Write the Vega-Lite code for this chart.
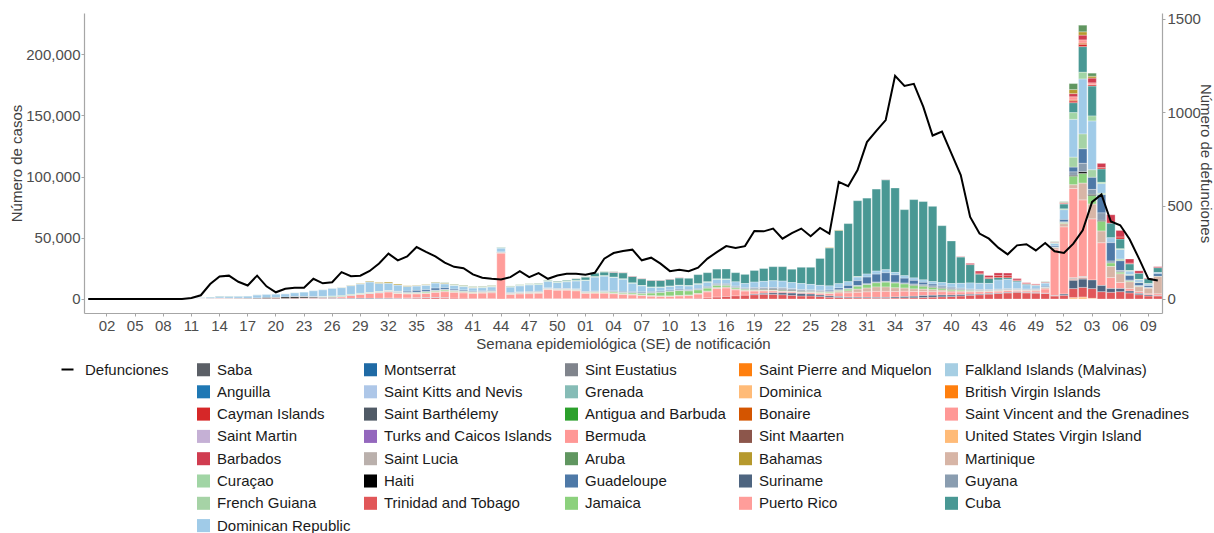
{
 "$schema": "https://vega.github.io/schema/vega-lite/v6.json",
 "width": 1078, "height": 300,
 "autosize": {"type": "none"},
 "padding": {"left": 84, "top": 13, "right": 52, "bottom": 220},
 "background": "white",
 "config": {
  "view": {"stroke": null},
  "font": "Liberation Sans",
  "axis": {"grid": false, "domainColor": "#a6a6a6", "domainWidth": 1.2, "tickColor": "#a6a6a6", "tickSize": 3, "labelFontSize": 15, "labelColor": "#4d4d4d", "titleFontSize": 15, "titleFontWeight": "normal", "titleColor": "#404040", "labelFont": "Liberation Sans", "titleFont": "Liberation Sans"},
  "legend": {"labelFontSize": 15, "labelColor": "#1a1a1a", "labelFont": "Liberation Sans", "padding": 0, "labelLimit": 400, "symbolLimit": 0}
 },
 "datasets": {
  "names": [
   {"k": "CU", "country": "Cuba"}, {"k": "DO", "country": "Dominican Republic"}, {"k": "PR", "country": "Puerto Rico"},
   {"k": "JM", "country": "Jamaica"}, {"k": "GP", "country": "Guadeloupe"}, {"k": "MQ", "country": "Martinique"},
   {"k": "TT", "country": "Trinidad and Tobago"}, {"k": "SR", "country": "Suriname"}, {"k": "HT", "country": "Haiti"},
   {"k": "GY", "country": "Guyana"}, {"k": "GF", "country": "French Guiana"}, {"k": "CW", "country": "Curaçao"},
   {"k": "BB", "country": "Barbados"}, {"k": "BS", "country": "Bahamas"}, {"k": "AW", "country": "Aruba"},
   {"k": "KY", "country": "Cayman Islands"}, {"k": "BM", "country": "Bermuda"}, {"k": "VI", "country": "United States Virgin Island"},
   {"k": "LC", "country": "Saint Lucia"}, {"k": "BQ", "country": "Bonaire"}, {"k": "VC", "country": "Saint Vincent and the Grenadines"},
   {"k": "SX", "country": "Sint Maarten"}
  ],
  "weeks": [
   {"w": "2019-52", "d": 0},
   {"w": "2020-01", "d": 0}, {"w": "2020-02", "d": 0}, {"w": "2020-03", "d": 0}, {"w": "2020-04", "d": 0}, {"w": "2020-05", "d": 0},
   {"w": "2020-06", "d": 0}, {"w": "2020-07", "d": 0}, {"w": "2020-08", "d": 0}, {"w": "2020-09", "d": 0}, {"w": "2020-10", "d": 0},
   {"w": "2020-11", "d": 5, "DO": 150, "CU": 30, "PR": 20},
   {"w": "2020-12", "d": 20, "DO": 700, "CU": 150, "PR": 100, "GP": 50, "MQ": 50, "TT": 30},
   {"w": "2020-13", "d": 80, "DO": 1000, "CU": 300, "PR": 300},
   {"w": "2020-14", "d": 120, "DO": 1200, "CU": 400, "PR": 500, "HT": 50},
   {"w": "2020-15", "d": 125, "DO": 1300, "CU": 350, "PR": 400, "HT": 100},
   {"w": "2020-16", "d": 92, "DO": 1400, "CU": 300, "PR": 400, "HT": 150},
   {"w": "2020-17", "d": 72, "DO": 1700, "CU": 250, "PR": 300, "HT": 200},
   {"w": "2020-18", "d": 125, "DO": 2400, "CU": 200, "PR": 400, "HT": 300, "SR": 50},
   {"w": "2020-19", "d": 68, "DO": 2600, "CU": 150, "PR": 500, "HT": 500},
   {"w": "2020-20", "d": 36, "DO": 2600, "CU": 100, "PR": 600, "HT": 600, "GY": 50},
   {"w": "2020-21", "d": 55, "DO": 2500, "CU": 100, "PR": 500, "HT": 1000, "JM": 50},
   {"w": "2020-22", "d": 60, "DO": 3000, "PR": 600, "HT": 1200, "CU": 100, "GY": 100},
   {"w": "2020-23", "d": 60, "DO": 3600, "PR": 800, "HT": 900, "CU": 100, "GY": 150, "SR": 100},
   {"w": "2020-24", "d": 108, "DO": 4800, "PR": 900, "HT": 600, "CU": 100, "GY": 200, "SR": 150},
   {"w": "2020-25", "d": 84, "DO": 5500, "PR": 900, "HT": 400, "CU": 100, "GY": 200, "SR": 200, "GF": 200},
   {"w": "2020-26", "d": 90, "DO": 6200, "PR": 1000, "HT": 300, "GF": 500, "SR": 300, "GY": 250, "CU": 100},
   {"w": "2020-27", "d": 144, "DO": 6500, "PR": 1400, "HT": 200, "GF": 600, "SR": 300, "GY": 200, "CU": 150, "BS": 100},
   {"w": "2020-28", "d": 122, "DO": 7000, "PR": 2500, "GF": 500, "SR": 400, "GY": 200, "HT": 150, "CU": 200, "BS": 200},
   {"w": "2020-29", "d": 125, "DO": 7500, "PR": 3300, "GF": 400, "SR": 500, "GY": 250, "JM": 100, "CU": 300, "BS": 300, "TT": 50},
   {"w": "2020-30", "d": 150, "DO": 8500, "PR": 4000, "GF": 300, "SR": 500, "GY": 300, "JM": 200, "CU": 300, "BS": 500},
   {"w": "2020-31", "d": 190, "DO": 6500, "PR": 4500, "GF": 300, "SR": 400, "GY": 300, "JM": 300, "GP": 200, "CU": 300, "BS": 600, "TT": 100},
   {"w": "2020-32", "d": 243, "DO": 5800, "PR": 5000, "JM": 400, "GP": 300, "GY": 300, "SR": 400, "CU": 300, "BS": 800, "TT": 300, "GF": 200},
   {"w": "2020-33", "d": 207, "DO": 5000, "PR": 4000, "JM": 500, "GP": 600, "GY": 300, "SR": 300, "CU": 300, "BS": 700, "TT": 300, "GF": 150, "MQ": 100},
   {"w": "2020-34", "d": 228, "DO": 3800, "PR": 3500, "JM": 600, "GP": 1000, "MQ": 200, "GY": 300, "SR": 200, "TT": 500, "CU": 300, "BS": 400},
   {"w": "2020-35", "d": 278, "DO": 3500, "PR": 3300, "JM": 700, "GP": 1500, "MQ": 300, "GY": 300, "SR": 200, "TT": 700, "CU": 300, "BS": 300},
   {"w": "2020-36", "d": 252, "DO": 3700, "PR": 3400, "JM": 800, "GP": 1500, "MQ": 400, "GY": 300, "SR": 200, "TT": 900, "CU": 300, "BS": 300, "CW": 100},
   {"w": "2020-37", "d": 228, "DO": 4000, "PR": 4200, "JM": 900, "GP": 1800, "MQ": 500, "GY": 300, "SR": 200, "TT": 1000, "CU": 400, "BS": 400, "AW": 200},
   {"w": "2020-38", "d": 195, "DO": 3000, "PR": 5000, "JM": 900, "GP": 1500, "MQ": 600, "GY": 250, "SR": 150, "TT": 800, "CU": 400, "BS": 400, "AW": 300},
   {"w": "2020-39", "d": 172, "DO": 3000, "PR": 4800, "JM": 800, "GP": 1000, "MQ": 600, "GY": 200, "TT": 600, "CU": 400, "BS": 300, "AW": 300, "CW": 200},
   {"w": "2020-40", "d": 165, "DO": 2800, "PR": 4500, "JM": 700, "GP": 800, "MQ": 600, "GY": 200, "TT": 500, "CU": 400, "BS": 300, "AW": 300, "CW": 300},
   {"w": "2020-41", "d": 132, "DO": 2500, "PR": 4200, "JM": 600, "GP": 600, "MQ": 500, "GY": 150, "TT": 400, "CU": 400, "BS": 200, "AW": 300, "CW": 300},
   {"w": "2020-42", "d": 114, "DO": 2600, "PR": 4500, "JM": 500, "GP": 600, "MQ": 600, "GY": 150, "TT": 300, "CU": 400, "BS": 200, "AW": 300, "CW": 300},
   {"w": "2020-43", "d": 108, "DO": 2800, "PR": 4800, "JM": 500, "GP": 600, "MQ": 700, "GY": 150, "TT": 300, "CU": 400, "BS": 200, "AW": 300, "CW": 300},
   {"w": "2020-44", "d": 105, "DO": 3200, "PR": 37500, "JM": 300, "GP": 300, "MQ": 300, "CU": 400, "CW": 200},
   {"w": "2020-45", "d": 117, "DO": 4500, "PR": 3500, "JM": 400, "GP": 400, "MQ": 600, "GY": 150, "TT": 200, "CU": 400, "CW": 300, "AW": 200},
   {"w": "2020-46", "d": 149, "DO": 5000, "PR": 4000, "JM": 400, "GP": 400, "MQ": 600, "GY": 150, "TT": 200, "CU": 400, "CW": 300, "AW": 200},
   {"w": "2020-47", "d": 117, "DO": 5500, "PR": 4200, "JM": 400, "GP": 400, "MQ": 700, "GY": 150, "TT": 200, "CU": 400, "CW": 300, "AW": 200},
   {"w": "2020-48", "d": 139, "DO": 5500, "PR": 4500, "JM": 400, "GP": 400, "MQ": 600, "GY": 200, "TT": 200, "CU": 500, "CW": 400, "AW": 200},
   {"w": "2020-49", "d": 108, "DO": 5500, "PR": 7500, "JM": 400, "GP": 300, "MQ": 400, "GY": 200, "TT": 200, "CU": 500, "CW": 400, "AW": 200},
   {"w": "2020-50", "d": 126, "DO": 5000, "PR": 7000, "JM": 400, "GP": 300, "MQ": 400, "GY": 200, "TT": 200, "CU": 700, "CW": 300, "AW": 200},
   {"w": "2020-51", "d": 135, "DO": 5500, "PR": 7000, "JM": 500, "GP": 300, "MQ": 400, "GY": 200, "TT": 200, "CU": 900, "CW": 300, "AW": 200},
   {"w": "2020-52", "d": 135, "DO": 6500, "PR": 6500, "JM": 600, "GP": 300, "MQ": 400, "GY": 200, "TT": 200, "CU": 1500, "CW": 300, "AW": 200, "BB": 100},
   {"w": "2021-01", "d": 130, "DO": 9000, "PR": 4500, "JM": 600, "GP": 300, "MQ": 300, "GY": 200, "TT": 200, "CU": 2500, "CW": 300, "AW": 200},
   {"w": "2021-02", "d": 140, "DO": 11500, "PR": 4500, "JM": 700, "GP": 400, "MQ": 300, "GY": 200, "TT": 300, "CU": 3000, "CW": 300, "AW": 200},
   {"w": "2021-03", "d": 216, "DO": 12000, "PR": 4500, "JM": 900, "GP": 500, "MQ": 300, "GY": 200, "TT": 300, "CU": 3000, "CW": 300, "AW": 300},
   {"w": "2021-04", "d": 246, "DO": 11000, "PR": 4000, "JM": 1000, "GP": 600, "MQ": 400, "GY": 300, "TT": 300, "CU": 4000, "BB": 300, "CW": 200, "AW": 200},
   {"w": "2021-05", "d": 257, "DO": 10000, "PR": 3500, "JM": 1000, "GP": 700, "MQ": 400, "GY": 300, "TT": 300, "CU": 5000, "BB": 300, "CW": 200, "AW": 100},
   {"w": "2021-06", "d": 264, "DO": 7000, "PR": 3000, "JM": 1200, "GP": 700, "MQ": 400, "GY": 300, "TT": 300, "CU": 5300, "BB": 300, "CW": 200},
   {"w": "2021-07", "d": 207, "DO": 5000, "PR": 2500, "JM": 1500, "GP": 800, "MQ": 400, "GY": 300, "TT": 300, "CU": 5500, "BB": 200, "CW": 200},
   {"w": "2021-08", "d": 221, "DO": 3500, "PR": 2000, "JM": 2200, "GP": 800, "MQ": 400, "GY": 300, "TT": 300, "CU": 5500, "BB": 200, "CW": 200},
   {"w": "2021-09", "d": 189, "DO": 3000, "PR": 1800, "JM": 3000, "GP": 700, "MQ": 400, "GY": 300, "TT": 300, "CU": 5500, "BB": 200, "CW": 200},
   {"w": "2021-10", "d": 149, "DO": 3000, "PR": 1800, "JM": 3800, "GP": 700, "MQ": 400, "GY": 300, "TT": 300, "CU": 5600, "BB": 200, "CW": 200},
   {"w": "2021-11", "d": 157, "DO": 3000, "PR": 2200, "JM": 4000, "GP": 700, "MQ": 400, "GY": 400, "TT": 300, "CU": 6000, "BB": 200, "CW": 200},
   {"w": "2021-12", "d": 149, "DO": 3000, "PR": 2500, "JM": 3500, "GP": 600, "MQ": 400, "GY": 400, "TT": 300, "CU": 6000, "CW": 200},
   {"w": "2021-13", "d": 168, "DO": 3500, "PR": 3500, "JM": 3000, "GP": 600, "MQ": 500, "GY": 500, "TT": 500, "CU": 7500, "CW": 300},
   {"w": "2021-14", "d": 216, "DO": 3500, "PR": 5000, "JM": 2500, "GP": 700, "MQ": 600, "GY": 600, "TT": 800, "CU": 7500, "CW": 300},
   {"w": "2021-15", "d": 251, "DO": 3500, "PR": 7000, "JM": 2000, "GP": 700, "MQ": 700, "GY": 700, "TT": 1500, "CU": 8000, "CW": 300},
   {"w": "2021-16", "d": 283, "DO": 3500, "PR": 7000, "JM": 1500, "GP": 600, "MQ": 700, "GY": 700, "TT": 2000, "CU": 8200, "CW": 300},
   {"w": "2021-17", "d": 273, "DO": 3500, "PR": 5000, "JM": 1200, "GP": 500, "MQ": 600, "GY": 700, "TT": 2500, "CU": 7500},
   {"w": "2021-18", "d": 283, "DO": 3500, "PR": 3500, "JM": 1000, "GP": 400, "MQ": 500, "GY": 700, "TT": 3000, "CU": 7500},
   {"w": "2021-19", "d": 364, "DO": 4500, "PR": 2500, "JM": 900, "GP": 400, "MQ": 400, "GY": 800, "SR": 500, "HT": 300, "TT": 3500, "CU": 9500},
   {"w": "2021-20", "d": 362, "DO": 5000, "PR": 2000, "JM": 800, "GP": 300, "MQ": 400, "GY": 900, "SR": 800, "HT": 400, "TT": 3800, "CU": 10500},
   {"w": "2021-21", "d": 377, "DO": 5500, "PR": 1600, "JM": 700, "GP": 300, "MQ": 300, "GY": 1000, "SR": 1200, "HT": 500, "TT": 3800, "CU": 11500},
   {"w": "2021-22", "d": 323, "DO": 5500, "PR": 1200, "JM": 700, "GP": 300, "MQ": 300, "GY": 1000, "SR": 1500, "HT": 600, "TT": 3500, "CU": 11800},
   {"w": "2021-23", "d": 353, "DO": 5000, "PR": 1000, "JM": 600, "GP": 300, "MQ": 300, "GY": 900, "SR": 1800, "HT": 500, "TT": 3000, "CU": 10900},
   {"w": "2021-24", "d": 377, "DO": 5000, "PR": 1000, "JM": 600, "GP": 300, "MQ": 300, "GY": 800, "SR": 1800, "HT": 300, "TT": 2500, "CU": 13300},
   {"w": "2021-25", "d": 336, "DO": 4500, "PR": 1200, "JM": 600, "GP": 300, "MQ": 300, "GY": 800, "SR": 1500, "HT": 200, "TT": 2500, "CU": 14000},
   {"w": "2021-26", "d": 380, "DO": 4000, "PR": 1500, "JM": 700, "GP": 400, "MQ": 400, "GY": 700, "SR": 1200, "HT": 200, "TT": 2000, "CU": 22000},
   {"w": "2021-27", "d": 350, "DO": 3500, "PR": 2000, "JM": 800, "GP": 800, "MQ": 500, "GY": 600, "SR": 1000, "TT": 1500, "CU": 31000, "BS": 300},
   {"w": "2021-28", "d": 627, "DO": 3500, "PR": 3000, "JM": 1000, "GP": 1500, "MQ": 1000, "GY": 500, "SR": 800, "TT": 1200, "CU": 43500, "BS": 400},
   {"w": "2021-29", "d": 604, "DO": 3000, "PR": 3500, "JM": 1500, "GP": 2500, "MQ": 1500, "GY": 500, "SR": 600, "TT": 1000, "CU": 47500},
   {"w": "2021-30", "d": 690, "DO": 3000, "PR": 4000, "JM": 2500, "GP": 4000, "MQ": 2500, "GY": 500, "SR": 600, "TT": 900, "CU": 62000, "CW": 300},
   {"w": "2021-31", "d": 840, "DO": 2500, "PR": 4500, "JM": 3000, "GP": 5500, "MQ": 3000, "GY": 500, "SR": 600, "TT": 800, "CU": 62000},
   {"w": "2021-32", "d": 900, "DO": 2500, "PR": 5000, "JM": 3500, "GP": 6500, "MQ": 3500, "GY": 500, "SR": 600, "TT": 700, "CU": 67000},
   {"w": "2021-33", "d": 958, "DO": 2500, "PR": 5000, "JM": 4000, "GP": 7000, "MQ": 3500, "GY": 600, "SR": 600, "TT": 700, "CU": 73500, "BB": 100},
   {"w": "2021-34", "d": 1195, "DO": 2000, "PR": 4500, "JM": 4000, "GP": 6000, "MQ": 3000, "GY": 600, "SR": 800, "TT": 800, "CU": 69000},
   {"w": "2021-35", "d": 1141, "DO": 2000, "PR": 4500, "JM": 3500, "GP": 4000, "MQ": 2500, "GY": 600, "SR": 1000, "TT": 900, "CU": 54000},
   {"w": "2021-36", "d": 1152, "DO": 2000, "PR": 4000, "JM": 3000, "GP": 3000, "MQ": 2000, "GY": 700, "SR": 1200, "TT": 1000, "HT": 300, "CU": 64000},
   {"w": "2021-37", "d": 1030, "DO": 2000, "PR": 3500, "JM": 2500, "GP": 2000, "MQ": 1800, "GY": 800, "SR": 1500, "TT": 1200, "HT": 300, "CU": 64000},
   {"w": "2021-38", "d": 875, "DO": 2000, "PR": 3000, "JM": 2000, "GP": 1500, "MQ": 1500, "GY": 900, "SR": 1500, "TT": 1500, "HT": 300, "CU": 61500},
   {"w": "2021-39", "d": 896, "DO": 2500, "PR": 2800, "JM": 1500, "GP": 1000, "MQ": 1200, "GY": 900, "SR": 1400, "TT": 1800, "HT": 300, "CU": 46500},
   {"w": "2021-40", "d": 780, "DO": 3000, "PR": 2500, "JM": 1200, "GP": 700, "MQ": 900, "GY": 800, "SR": 1200, "TT": 2000, "HT": 300, "CU": 34800},
   {"w": "2021-41", "d": 663, "DO": 4000, "PR": 2200, "JM": 1000, "GP": 500, "MQ": 700, "GY": 700, "SR": 1000, "TT": 2500, "HT": 200, "CU": 21500, "BB": 300},
   {"w": "2021-42", "d": 439, "DO": 5000, "PR": 2000, "JM": 800, "GP": 400, "MQ": 500, "GY": 600, "SR": 800, "TT": 3000, "CU": 15000, "BB": 1000},
   {"w": "2021-43", "d": 350, "DO": 5000, "PR": 1800, "JM": 600, "GP": 300, "MQ": 400, "GY": 600, "SR": 600, "TT": 3500, "CU": 7500, "BB": 1800, "KY": 700},
   {"w": "2021-44", "d": 323, "DO": 5000, "PR": 1500, "JM": 500, "GP": 300, "MQ": 400, "GY": 500, "SR": 500, "TT": 4000, "CU": 4000, "BB": 1700, "KY": 800},
   {"w": "2021-45", "d": 275, "DO": 7500, "PR": 1500, "JM": 400, "GP": 300, "MQ": 400, "GY": 500, "SR": 400, "TT": 4500, "CU": 2000, "BB": 2300, "KY": 1500},
   {"w": "2021-46", "d": 239, "DO": 7500, "PR": 1500, "JM": 300, "GP": 300, "MQ": 400, "GY": 500, "SR": 400, "TT": 5000, "CU": 1500, "BB": 2300, "KY": 1500},
   {"w": "2021-47", "d": 287, "DO": 5500, "PR": 1200, "JM": 300, "GP": 300, "MQ": 400, "GY": 400, "SR": 300, "TT": 5500, "CU": 1000, "BB": 1300, "KY": 500},
   {"w": "2021-48", "d": 293, "DO": 3500, "PR": 1200, "JM": 300, "GP": 400, "MQ": 500, "GY": 300, "SR": 300, "TT": 5000, "CU": 700, "BB": 700, "KY": 400},
   {"w": "2021-49", "d": 260, "DO": 2500, "PR": 1500, "JM": 300, "GP": 600, "MQ": 600, "GY": 300, "SR": 300, "TT": 4800, "CU": 500, "BB": 600, "KY": 300},
   {"w": "2021-50", "d": 300, "DO": 2500, "PR": 3500, "JM": 300, "GP": 800, "MQ": 800, "GY": 200, "SR": 200, "TT": 4500, "CU": 500, "BB": 500, "AW": 300},
   {"w": "2021-51", "d": 255, "DO": 2000, "PR": 38000, "JM": 300, "GP": 1000, "MQ": 1200, "GY": 200, "SR": 200, "TT": 2500, "CU": 500, "BB": 300, "AW": 300, "CW": 300},
   {"w": "2021-52", "d": 246, "PR": 55000, "DO": 8000, "CU": 4000, "GP": 2000, "MQ": 2500, "JM": 1000, "TT": 3000, "SR": 1000, "GY": 500, "BB": 800, "AW": 500, "CW": 600, "KY": 400, "BS": 200},
   {"w": "2022-01", "d": 296, "PR": 73000, "DO": 31000, "CU": 8200, "CW": 5400, "GF": 8000, "GP": 4000, "GY": 2700, "HT": 800, "JM": 7000, "MQ": 3000, "SR": 6800, "TT": 7500, "AW": 4900, "BS": 3300, "BB": 2700, "BM": 2700, "KY": 1400, "VI": 1000, "LC": 1000, "BQ": 600, "VC": 500, "SX": 500},
   {"w": "2022-02", "d": 368, "PR": 62600, "DO": 45000, "CU": 21000, "CW": 5400, "GF": 12000, "GP": 12000, "GY": 6800, "HT": 1400, "JM": 8000, "MQ": 13600, "SR": 6800, "TT": 8000, "AW": 5400, "BS": 2700, "BB": 4000, "BM": 2700, "KY": 1900, "VI": 1500, "LC": 1000, "BQ": 800, "SX": 600, "VC": 500},
   {"w": "2022-03", "d": 520, "PR": 50000, "DO": 40000, "CU": 24500, "CW": 4000, "GF": 6000, "GP": 10000, "GY": 4000, "HT": 1000, "JM": 7000, "MQ": 12000, "SR": 7000, "TT": 8000, "AW": 2500, "BS": 1500, "BB": 4000, "BM": 1500, "KY": 1000, "VI": 500},
   {"w": "2022-04", "d": 560, "PR": 35000, "DO": 8000, "CU": 11000, "GP": 15000, "GY": 6000, "HT": 800, "JM": 8000, "MQ": 9500, "SR": 5000, "TT": 6000, "BB": 3500, "KY": 1000, "CW": 1000, "GF": 1000},
   {"w": "2022-05", "d": 415, "PR": 9000, "DO": 4000, "CU": 12000, "GP": 15000, "GY": 1500, "JM": 3000, "MQ": 9000, "SR": 3000, "TT": 5500, "BB": 6800},
   {"w": "2022-06", "d": 395, "PR": 5000, "DO": 8000, "CU": 8000, "GP": 8000, "MQ": 7000, "JM": 1500, "SR": 2500, "TT": 6000, "BB": 5500, "KY": 1500, "GY": 1000, "CW": 500, "HT": 300, "GF": 1200},
   {"w": "2022-07", "d": 320, "PR": 2000, "DO": 3000, "CU": 5500, "GP": 4000, "MQ": 5500, "JM": 800, "SR": 1500, "TT": 5000, "BB": 3500, "KY": 500, "GY": 600, "CW": 400, "GF": 400},
   {"w": "2022-08", "d": 216, "PR": 1500, "DO": 2000, "CU": 5000, "GP": 2500, "MQ": 4000, "JM": 500, "SR": 1000, "TT": 3500, "BB": 2000, "GY": 400, "CW": 300, "GF": 300},
   {"w": "2022-09", "d": 108, "PR": 1000, "DO": 1500, "CU": 4000, "GP": 1500, "MQ": 4500, "JM": 300, "SR": 800, "TT": 2500, "BB": 500, "GY": 200, "CW": 200},
   {"w": "2022-10", "d": 99, "MQ": 14000, "PR": 1500, "DO": 1000, "CU": 4000, "GP": 2000, "TT": 2500, "BB": 800, "SR": 300, "JM": 300}
  ]
 },
 "layer": [
  {
   "data": {"name": "weeks"},
   "transform": [
    {"fold": ["CU","DO","PR","JM","GP","MQ","TT","SR","HT","GY","GF","CW","BB","BS","AW","KY","BM","VI","LC","BQ","VC","SX"], "as": ["k", "cases"]},
    {"filter": "isValid(datum.cases) && datum.cases > 0"},
    {"lookup": "k", "from": {"data": {"name": "names"}, "key": "k", "fields": ["country"]}}
   ],
   "mark": {"type": "bar", "stroke": "white", "strokeWidth": 0.3},
   "encoding": {
    "x": {"field": "w", "type": "ordinal", "scale": {"paddingInner": 0.1, "paddingOuter": 0},
     "axis": {"title": "Semana epidemiológica (SE) de notificación", "labelAngle": 0, "labelPadding": 2, "titlePadding": 3,
      "values": ["2020-02","2020-05","2020-08","2020-11","2020-14","2020-17","2020-20","2020-23","2020-26","2020-29","2020-32","2020-35","2020-38","2020-41","2020-44","2020-47","2020-50","2021-01","2021-04","2021-07","2021-10","2021-13","2021-16","2021-19","2021-22","2021-25","2021-28","2021-31","2021-34","2021-37","2021-40","2021-43","2021-46","2021-49","2021-52","2022-03","2022-06","2022-09"],
      "labelExpr": "slice(datum.value, 5)"}},
    "y": {"field": "cases", "type": "quantitative", "stack": "zero",
     "scale": {"domain": [-11440, 233660], "nice": false, "zero": false},
     "axis": {"title": "Número de casos", "values": [0, 50000, 100000, 150000, 200000], "format": ",.0f", "labelPadding": 1, "titlePadding": 1}},
    "color": {"field": "country", "type": "nominal",
     "scale": {
      "domain": ["Saba","Montserrat","Sint Eustatius","Saint Pierre and Miquelon","Falkland Islands (Malvinas)","Anguilla","Saint Kitts and Nevis","Grenada","Dominica","British Virgin Islands","Cayman Islands","Saint Barthélemy","Antigua and Barbuda","Bonaire","Saint Vincent and the Grenadines","Saint Martin","Turks and Caicos Islands","Bermuda","Sint Maarten","United States Virgin Island","Barbados","Saint Lucia","Aruba","Bahamas","Martinique","Curaçao","Haiti","Guadeloupe","Suriname","Guyana","French Guiana","Trinidad and Tobago","Jamaica","Puerto Rico","Cuba","Dominican Republic"],
      "range": ["#5b5f66","#1f6aa5","#80848c","#ff7f0e","#a6cee3","#1f78b4","#aec7e8","#86bcb6","#ffbb78","#ff7f0e","#d62728","#505a66","#2ca02c","#d45500","#ff9896","#c5b0d5","#9467bd","#ff9896","#8c564b","#ffbb78","#d03c50","#bab0ac","#609660","#b6992d","#d7b5a6","#a1d5a5","#000000","#4e79a7","#4e6580","#8a9db0","#a6d3a6","#e15759","#8cd17d","#ff9d9a","#499894","#a0cbe8"]},
     "legend": {"orient": "none", "legendX": 112, "legendY": 349, "direction": "horizontal", "columns": 5, "title": null, "symbolType": "square", "symbolSize": 170, "symbolStrokeWidth": 0, "labelOffset": 6, "rowPadding": 6.3, "columnPadding": 12}},
    "order": {"field": "country", "sort": "descending"}
   }
  },
  {
   "data": {"name": "weeks"},
   "mark": {"type": "line", "strokeWidth": 2},
   "encoding": {
    "x": {"field": "w", "type": "ordinal"},
    "y": {"field": "d", "type": "quantitative", "scale": {"domain": [-75, 1531], "nice": false, "zero": false},
     "axis": {"orient": "right", "title": "Número de defunciones", "values": [0, 500, 1000, 1500], "format": "d", "labelPadding": 2, "titlePadding": -3}},
    "stroke": {"datum": "Defunciones", "type": "nominal", "scale": {"domain": ["Defunciones"], "range": ["#000000"]},
     "legend": {"orient": "none", "legendX": -24, "legendY": 349, "title": null, "symbolType": "stroke", "symbolSize": 144, "symbolStrokeWidth": 2, "labelOffset": 10}}
   }
  }
 ],
 "resolve": {"scale": {"y": "independent"}}
}
